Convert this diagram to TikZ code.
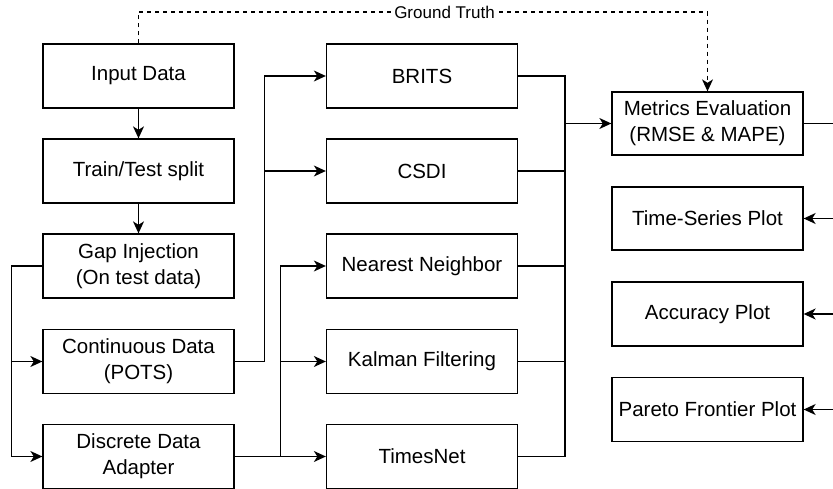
\documentclass[tikz,border=0pt]{standalone}
\usepackage{fontspec}
\setmainfont{Liberation Sans}
\usetikzlibrary{arrows.meta}
\begin{document}
\begin{tikzpicture}[x=1pt,y=-1pt,
  box/.style={draw, line width=1.3pt, minimum width=191pt, minimum height=64pt, inner sep=0pt, align=center, font=\fontsize{20.5}{26}\selectfont},
  link/.style={line width=1.3pt},
  arr/.style={link, -{Stealth[length=12pt,width=11pt,inset=3.5pt]}},
  lbl/.style={fill=white, inner sep=1pt, font=\fontsize{17}{20}\selectfont}]
\useasboundingbox (0,0) rectangle (833,489);
% left column
\node[box] (in)   at (138.5,76)    {Input Data};
\node[box] (tt)   at (138.5,171)   {Train/Test split};
\node[box] (gap)  at (138.5,266)   {Gap Injection\\(On test data)};
\node[box] (cont) at (138.5,361.5) {Continuous Data\\(POTS)};
\node[box] (disc) at (138.5,456.5) {Discrete Data\\Adapter};
% middle column
\node[box] (brits) at (422,76)    {BRITS};
\node[box] (csdi)  at (422,171)   {CSDI};
\node[box] (nn)    at (422,266)   {Nearest Neighbor};
\node[box] (kf)    at (422,361.5) {Kalman Filtering};
\node[box] (tn)    at (422,456.5) {TimesNet};
% right column
\node[box, minimum height=63pt] (met) at (707.5,123.5) {Metrics Evaluation\\(RMSE \& MAPE)};
\node[box, minimum height=63pt] (ts)  at (707.5,218.5) {Time-Series Plot};
\node[box] (acc) at (707.5,314)   {Accuracy Plot};
\node[box] (par) at (707.5,409.5) {Pareto Frontier Plot};
% connectors
\draw[arr] (in) -- (tt);
\draw[arr] (tt) -- (gap);
\draw[arr] (gap.west) -- ++(-31,0) |- (cont.west);
\draw[arr] (gap.west) -- ++(-31,0) |- (disc.west);
\draw[arr] (cont.east) -- ++(30,0) |- (brits.west);
\draw[arr] (cont.east) -- ++(30,0) |- (csdi.west);
\draw[arr] (disc.east) -- ++(46,0) |- (nn.west);
\draw[arr] (disc.east) -- ++(46,0) |- (kf.west);
\draw[arr] (disc.east) -- (tn.west);
\coordinate (j) at (565,123.5);
\draw[link] (brits.east) -| (j);
\draw[link] (csdi.east) -| (j);
\draw[link] (nn.east) -| (j);
\draw[link] (kf.east) -| (j);
\draw[link] (tn.east) -| (j);
\draw[arr] (j) -- (met.west);
\coordinate (r) at (840,123.5);
\draw[link] (met.east) -- (r);
\draw[arr] (r) |- (ts.east);
\draw[arr] (r) |- (acc.east);
\draw[arr] (r) |- (par.east);
% ground truth
\coordinate (gtl) at (138.5,12);
\draw[arr, dashed, dash pattern=on 4pt off 4pt] (in.north) -- (gtl) -| (met.north);
\node[lbl] (gt) at (444.5,12) {Ground Truth};
\end{tikzpicture}
\end{document}
